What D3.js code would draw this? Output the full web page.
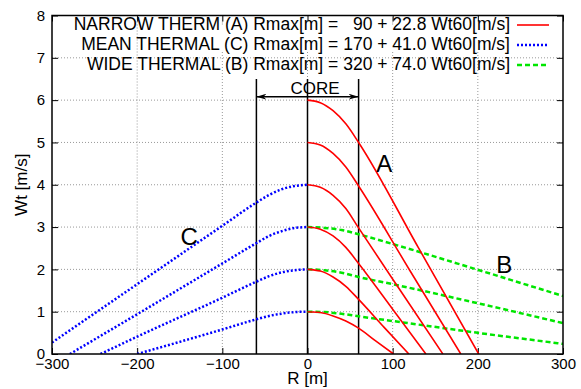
<!DOCTYPE html>
<html>
<head>
<meta charset="utf-8">
<script src="https://cdn.jsdelivr.net/npm/d3@7"></script>
<style>
  body { margin: 0; background: #fff; }
  svg text { font-family: "Liberation Sans", Arial, sans-serif; fill: #000; }
</style>
</head>
<body>
<div id="chart"></div>
<script>
// tangential wind Wt [m/s] vs radius R [m]
const narrowCurves = [
    [[0, 1], [15, 0.98], [30, 0.9], [45, 0.78], [60, 0.61], [80, 0.31], [101, 0]],
    [[0, 2], [15, 1.96], [30, 1.82], [45, 1.6], [60, 1.29], [90, 0.63], [119, 0]],
    [[0, 3], [15, 2.95], [30, 2.79], [45, 2.52], [60, 2.14], [100, 1.06], [139, 0]],
    [[0, 4], [15, 3.94], [30, 3.75], [45, 3.44], [60, 2.98], [110, 1.47], [159, 0]],
    [[0, 5], [15, 4.94], [30, 4.74], [45, 4.42], [60, 3.97], [120, 1.98], [180, 0]],
    [[0, 6], [15, 5.94], [30, 5.75], [45, 5.44], [60, 5.0], [130, 2.52], [201, 0]]
];
const meanCurves = [
    [[-200, 0], [-100, 0.58], [-60, 0.82], [-45, 0.9], [-30, 0.955], [-15, 0.99], [0, 1]],
    [[-243, 0], [-200, 0.41], [-100, 1.33], [-60, 1.71], [-45, 1.84], [-30, 1.93], [-15, 1.98], [0, 2]],
    [[-279, 0], [-200, 0.94], [-100, 2.14], [-60, 2.62], [-45, 2.79], [-30, 2.905], [-15, 2.98], [0, 3]],
    [[-300, 0.27], [-200, 1.65], [-100, 3.03], [-60, 3.58], [-45, 3.76], [-30, 3.895], [-15, 3.97], [0, 4]]
];
const wideCurves = [
    [[0, 1], [20, 0.99], [40, 0.95], [60, 0.89], [100, 0.78], [200, 0.5], [300, 0.24]],
    [[0, 2], [20, 1.98], [40, 1.92], [60, 1.82], [100, 1.65], [200, 1.2], [300, 0.73]],
    [[0, 3], [20, 2.98], [40, 2.93], [60, 2.83], [100, 2.6], [200, 1.99], [300, 1.37]]
];
const legendLabels = [
    'NARROW THERM (A) Rmax[m] =   90 + 22.8 Wt60[m/s]',
    'MEAN THERMAL (C) Rmax[m] = 170 + 41.0 Wt60[m/s]',
    'WIDE THERMAL (B) Rmax[m] = 320 + 74.0 Wt60[m/s]'
];
const xTicks = [-300, -200, -100, 0, 100, 200, 300];
const yTicks = [0, 1, 2, 3, 4, 5, 6, 7, 8];
const coreEdge = 60;
const curveLabels = [['A', 90, 4.31], ['B', 231, 1.91], ['C', -139, 2.58]];

var margin = {top: 15.5, right: 18, bottom: 35, left: 52},
    width = 581 - margin.left - margin.right,
    height = 389 - margin.top - margin.bottom;

var svg = d3.select('#chart').append('svg')
    .attr('width', 581)
    .attr('height', 389)
    .append('g')
    .attr('transform', 'translate(' + margin.left + ',' + margin.top + ')');

var x = d3.scaleLinear().domain([-300, 300]).range([0, width]);
var y = d3.scaleLinear().domain([0, 8]).range([height, 0]);

// grid (the key hides part of the upper vertical lines)
var gridTop = 36.5;
svg.append('g').selectAll('line')
    .data(yTicks.slice(1, -1))
    .enter().append('line')
    .attr('x1', 0).attr('x2', width)
    .attr('y1', d => y(d)).attr('y2', d => y(d))
    .attr('stroke', '#999').attr('stroke-width', 1).attr('stroke-dasharray', '1,2');
svg.append('g').selectAll('line')
    .data(xTicks.slice(1, -1))
    .enter().append('line')
    .attr('x1', d => x(d)).attr('x2', d => x(d))
    .attr('y1', d => d === -200 ? 0 : gridTop).attr('y2', height)
    .attr('stroke', '#999').attr('stroke-width', 1).attr('stroke-dasharray', '1,2');
svg.append('g').selectAll('line')
    .data([-100, 100])
    .enter().append('line')
    .attr('x1', d => x(d)).attr('x2', d => x(d))
    .attr('y1', 2).attr('y2', 9)
    .attr('stroke', '#999').attr('stroke-width', 1).attr('stroke-dasharray', '1,1');

// axes, ticks pointing inwards on all four sides
var fmt = d3.format('d');
svg.append('g')
    .attr('class', 'axis')
    .call(d3.axisLeft(y).tickValues(yTicks).tickSize(-6).tickPadding(7).tickFormat(fmt));
svg.append('g')
    .attr('class', 'axis')
    .attr('transform', 'translate(0,' + height + ')')
    .call(d3.axisBottom(x).tickValues(xTicks).tickSize(-6).tickPadding(4).tickFormat(fmt));
svg.append('g')
    .attr('class', 'axis')
    .attr('transform', 'translate(' + width + ',0)')
    .call(d3.axisRight(y).tickValues(yTicks).tickSize(-6).tickFormat(''));
svg.append('g')
    .attr('class', 'axis')
    .call(d3.axisTop(x).tickValues(xTicks).tickSize(-6).tickFormat(''));
svg.selectAll('.axis .domain').remove();
svg.selectAll('.axis line').attr('stroke', '#000');
svg.selectAll('.axis text')
    .style('font-size', '15px')
    .style('font-family', '"Liberation Sans", Arial, sans-serif');

// core markers
var coreTop = y(6.5);
svg.append('g').selectAll('line')
    .data([-coreEdge, 0, coreEdge])
    .enter().append('line')
    .attr('x1', d => x(d)).attr('x2', d => x(d))
    .attr('y1', coreTop).attr('y2', height)
    .attr('stroke', '#000').attr('stroke-width', 1.5);

svg.append('defs').append('marker')
    .attr('id', 'arrow')
    .attr('viewBox', '0 0 10 6')
    .attr('refX', 10).attr('refY', 3)
    .attr('markerWidth', 10).attr('markerHeight', 6)
    .attr('markerUnits', 'userSpaceOnUse')
    .attr('orient', 'auto-start-reverse')
    .append('path')
    .attr('d', 'M0,0L10,3L0,6L3,3Z')
    .attr('fill', '#000');

svg.append('line')
    .attr('x1', x(-coreEdge)).attr('x2', x(coreEdge))
    .attr('y1', y(6.08)).attr('y2', y(6.08))
    .attr('stroke', '#000').attr('stroke-width', 1.5)
    .attr('marker-start', 'url(#arrow)')
    .attr('marker-end', 'url(#arrow)');

svg.append('text')
    .attr('x', x(9)).attr('y', y(6.15))
    .attr('text-anchor', 'middle')
    .style('font-size', '17px')
    .text('CORE');

// curves
svg.append('clipPath').attr('id', 'plotclip')
    .append('rect').attr('width', width).attr('height', height);

var line = d3.line()
    .x(d => x(d[0]))
    .y(d => y(d[1]))
    .curve(d3.curveMonotoneX);

var plot = svg.append('g').attr('clip-path', 'url(#plotclip)');

plot.selectAll('.wide')
    .data(wideCurves)
    .enter().append('path')
    .attr('class', 'wide')
    .attr('d', line)
    .attr('fill', 'none')
    .attr('stroke', '#00e600').attr('stroke-width', 2.5).attr('stroke-dasharray', '5,3');

plot.selectAll('.mean')
    .data(meanCurves)
    .enter().append('path')
    .attr('class', 'mean')
    .attr('d', line)
    .attr('fill', 'none')
    .attr('stroke', '#0000ff').attr('stroke-width', 2.5).attr('stroke-dasharray', '2,2');

plot.selectAll('.narrow')
    .data(narrowCurves)
    .enter().append('path')
    .attr('class', 'narrow')
    .attr('d', line)
    .attr('fill', 'none')
    .attr('stroke', '#ff0000').attr('stroke-width', 1.6);

svg.selectAll('.curvelabel')
    .data(curveLabels)
    .enter().append('text')
    .attr('class', 'curvelabel')
    .attr('x', d => x(d[1])).attr('y', d => y(d[2]))
    .attr('text-anchor', 'middle')
    .style('font-size', '24px')
    .text(d => d[0]);

// key
var keyStyles = [
    {color: '#ff0000', dash: null, w: 1.6},
    {color: '#0000ff', dash: '2,2', w: 2.5},
    {color: '#00e600', dash: '5,3', w: 2.5}
];
var key = svg.append('g');
key.selectAll('text')
    .data(legendLabels)
    .enter().append('text')
    .attr('x', 458).attr('y', (d, i) => 14 + i * 20)
    .attr('text-anchor', 'end')
    .style('font-size', '17.5px')
    .style('white-space', 'pre')
    .attr('xml:space', 'preserve')
    .text(d => d);
key.selectAll('line')
    .data(keyStyles)
    .enter().append('line')
    .attr('x1', 465).attr('x2', 497)
    .attr('y1', (d, i) => 9.5 + i * 20).attr('y2', (d, i) => 9.5 + i * 20)
    .attr('stroke', d => d.color)
    .attr('stroke-width', d => d.w)
    .attr('stroke-dasharray', d => d.dash);

// frame
svg.append('rect')
    .attr('width', width).attr('height', height)
    .attr('fill', 'none')
    .attr('stroke', '#000').attr('stroke-width', 1.5);

svg.append('text')
    .attr('x', x(0)).attr('y', height + 29.5)
    .attr('text-anchor', 'middle')
    .style('font-size', '17px')
    .text('R [m]');

svg.append('text')
    .attr('transform', 'translate(' + (-25) + ',' + (y(4.0)) + ') rotate(-90)')
    .attr('text-anchor', 'middle')
    .style('font-size', '17px')
    .text('Wt [m/s]');
</script>
</body>
</html>
